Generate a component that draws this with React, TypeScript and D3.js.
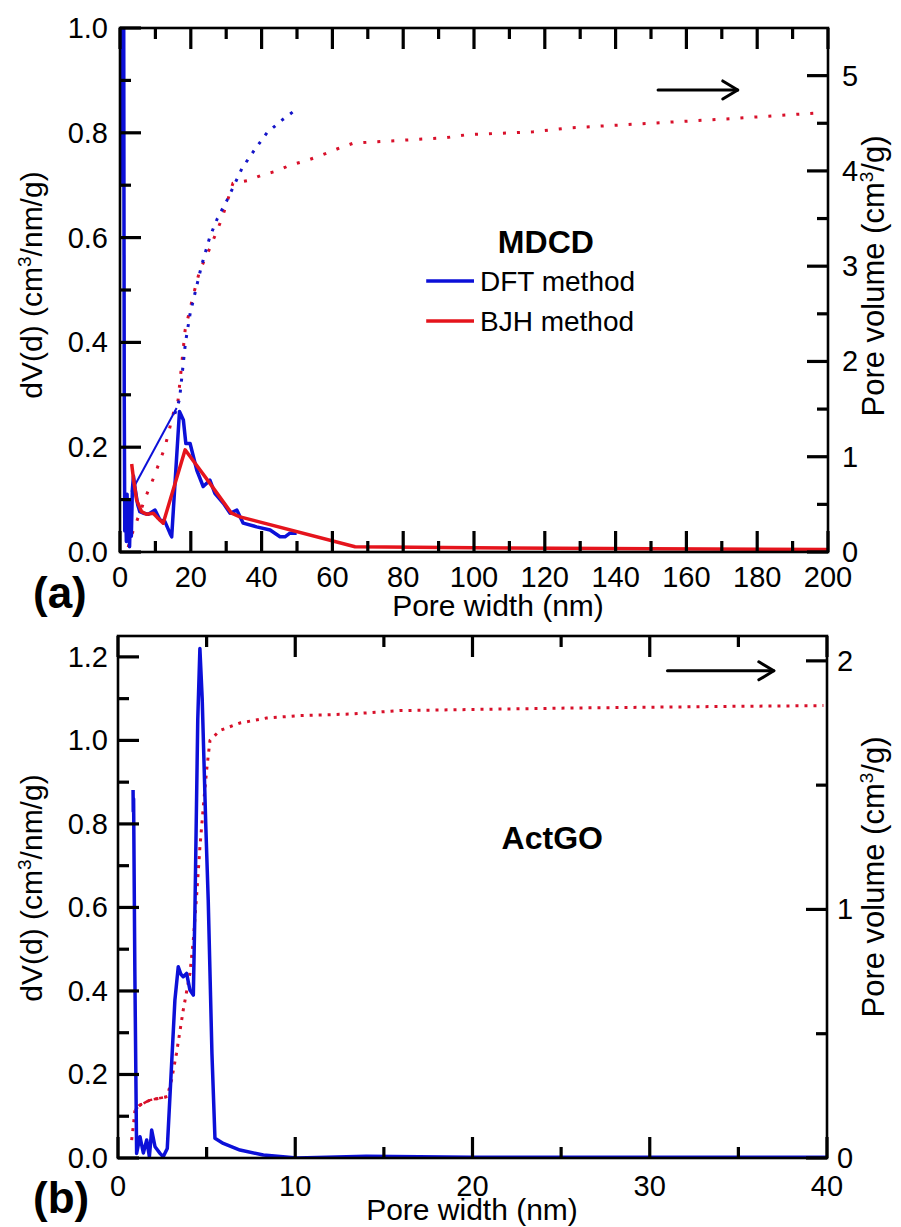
import React from "react";
import * as d3 from "d3";

type P = [number, number];

const FONT = "'Liberation Sans', Arial, Helvetica, sans-serif";
const BLUE = "#0c10d8";
const RED = "#e5141c";
const RED_DOT = "#d8102a";
const BLUE_DOT = "#1414c8";

// ---------- Panel (a): MDCD ----------
const aXMajor = [0, 20, 40, 60, 80, 100, 120, 140, 160, 180, 200];
const aXMinor = [10, 30, 50, 70, 90, 110, 130, 150, 170, 190];
const aYMajor = [0, 0.2, 0.4, 0.6, 0.8, 1.0];
const aYMinor = [0.1, 0.3, 0.5, 0.7, 0.9];
const aY2Major = [0, 1, 2, 3, 4, 5];
const aY2Minor = [0.5, 1.5, 2.5, 3.5, 4.5];

const aDftSolid: P[] = [
  [0.5, 1.3], [0.8, 0.7], [1.0, 1.25], [1.2, 0.3], [1.35, 0.04], [1.6, 0.09], [1.8, 0.02],
  [2.0, 0.11], [2.2, 0.03], [2.5, 0.1], [2.7, 0.01], [3.0, 0.09], [3.2, 0.03], [3.5, 0.12],
  [3.8, 0.145], [4.3, 0.12], [5.0, 0.09], [5.6, 0.077], [6.6, 0.074], [8.0, 0.072], [9.9, 0.08],
  [11.3, 0.061], [12.7, 0.058], [14.1, 0.036], [14.6, 0.029], [16.8, 0.268], [17.9, 0.252],
  [18.6, 0.207], [19.8, 0.207], [21.7, 0.156], [23.5, 0.125], [25.4, 0.137], [26.8, 0.112],
  [29.2, 0.093], [31.1, 0.074], [33.0, 0.08], [34.8, 0.055], [38.6, 0.048], [42.4, 0.042],
  [45.2, 0.029], [46.6, 0.029], [48.0, 0.036], [49.9, 0.036],
];
const aDftThin: P[] = [[3.2, 0.115], [16.0, 0.275]];
const aBjhSolid: P[] = [
  [3.3, 0.168], [3.8, 0.14], [4.7, 0.099], [6.1, 0.077], [7.5, 0.072], [9.4, 0.074],
  [10.5, 0.066], [12.2, 0.055], [18.4, 0.195], [25.4, 0.131], [31.5, 0.074], [33.9, 0.067],
  [66.4, 0.01], [100, 0.008], [150, 0.006], [200, 0.005],
];
const aBjhCum: P[] = [
  [2.3, 0.05], [3.5, 0.2], [5.6, 0.41], [7.5, 0.6], [9.4, 0.77], [11, 0.93], [12.7, 1.1],
  [15.1, 1.46], [16.4, 1.59], [18.4, 2.33], [20.6, 2.68], [22.5, 2.95], [25.4, 3.19],
  [28.8, 3.5], [31.9, 3.87], [36.2, 3.9], [40.4, 3.96], [44.4, 4.0], [48, 4.06], [52.8, 4.11],
  [57.3, 4.17], [61.3, 4.23], [65.8, 4.29], [69.8, 4.3], [79.1, 4.32], [92.4, 4.35],
  [98, 4.38], [116.7, 4.41], [126.3, 4.45], [135.6, 4.47], [154.5, 4.51], [173.2, 4.55],
  [197.7, 4.61],
];
const aDftCum: P[] = [
  [15.5, 1.45], [16.8, 1.6], [18.5, 2.2], [19.8, 2.5], [21.2, 2.72], [23, 3.0], [25.4, 3.31],
  [27.5, 3.5], [30.2, 3.69], [34.5, 4.03], [38, 4.22], [41.5, 4.4], [46, 4.54], [50.3, 4.66],
];

// ---------- Panel (b): ActGO ----------
const bXMajor = [0, 10, 20, 30, 40];
const bXMinor = [5, 15, 25, 35];
const bYMajor = [0, 0.2, 0.4, 0.6, 0.8, 1.0, 1.2];
const bYMinor = [0.1, 0.3, 0.5, 0.7, 0.9, 1.1];
const bY2Major = [0, 1, 2];
const bY2Minor = [0.5, 1.5];

const bDftSolid: P[] = [
  [0.85, 0.881], [0.86, 0.83], [0.88, 0.86], [0.95, 0.45], [1.05, 0.011], [1.24, 0.051],
  [1.43, 0.012], [1.62, 0.043], [1.77, 0.003], [1.9, 0.067], [2.09, 0.027], [2.37, 0.011],
  [2.55, 0.003], [2.78, 0.023], [3.21, 0.378], [3.4, 0.458], [3.55, 0.44], [3.68, 0.434],
  [3.87, 0.442], [4.06, 0.402], [4.25, 0.39], [4.34, 0.594], [4.5, 1.05], [4.62, 1.22],
  [4.75, 1.1], [4.95, 0.8], [5.09, 0.618], [5.3, 0.25], [5.47, 0.047], [5.94, 0.035],
  [6.88, 0.019], [8.2, 0.007], [10.1, 0.0], [14, 0.004], [20, 0.002], [30, 0.002], [40, 0.002],
];
const bBjhCum: P[] = [
  [0.77, 0.072], [0.86, 0.126], [0.96, 0.193], [1.24, 0.213], [1.8, 0.233], [2.3, 0.24],
  [2.78, 0.247], [3.02, 0.314], [3.3, 0.421], [3.68, 0.595], [4.06, 0.743], [4.25, 0.877],
  [4.44, 1.06], [4.62, 1.25], [4.81, 1.41], [5.0, 1.56], [5.19, 1.68], [5.75, 1.72],
  [6.88, 1.75], [8.38, 1.77], [10.3, 1.78], [13.1, 1.786], [15.9, 1.8], [25.3, 1.81],
  [34.7, 1.817], [39.8, 1.82],
];

type Box = { left: number; right: number; top: number; bottom: number };

const boxA: Box = { left: 120, right: 828, top: 28, bottom: 552 };
const boxB: Box = { left: 118, right: 827, top: 636, bottom: 1158 };

type S = d3.ScaleLinear<number, number>;

const TW = 3.2;
const LMAJ = 21;
const LMIN = 11;

function Frame(props: {
  box: Box;
  x: S;
  y: S;
  y2: S;
  xMaj: number[]; xMin: number[];
  yMaj: number[]; yMin: number[];
  y2Maj: number[]; y2Min: number[];
  xLabelBaseline: number;
  yLabelRight: number;
  y2LabelLeft: number;
}) {
  const { box } = props;
  const sx = props.x;
  const sy = props.y;
  const sy2 = props.y2;
  const vx = (vals: number[], len: number, pre: string) =>
    vals.map((v) => (
      <g key={pre + v}>
        <line x1={sx(v)} x2={sx(v)} y1={box.bottom} y2={box.bottom - len} stroke="#000" strokeWidth={TW} />
        <line x1={sx(v)} x2={sx(v)} y1={box.top} y2={box.top + len} stroke="#000" strokeWidth={TW} />
      </g>
    ));
  const vl = (vals: number[], len: number, pre: string) =>
    vals.map((v) => (
      <line key={pre + v} x1={box.left} x2={box.left + len} y1={sy(v)} y2={sy(v)} stroke="#000" strokeWidth={TW} />
    ));
  const vr = (vals: number[], len: number, pre: string) =>
    vals.map((v) => (
      <line key={pre + v} x1={box.right} x2={box.right - len} y1={sy2(v)} y2={sy2(v)} stroke="#000" strokeWidth={TW} />
    ));
  return (
    <g>
      {vx(props.xMaj, LMAJ, "xM")}
      {vx(props.xMin, LMIN, "xm")}
      {vl(props.yMaj, LMAJ, "lM")}
      {vl(props.yMin, LMIN, "lm")}
      {vr(props.y2Maj, LMAJ, "rM")}
      {vr(props.y2Min, LMIN, "rm")}
      <rect
        x={box.left}
        y={box.top}
        width={box.right - box.left}
        height={box.bottom - box.top}
        stroke="#000"
        strokeWidth={2.6}
        fill="none"
      />
      {props.xMaj.map((v) => (
        <text key={"xl" + v} x={sx(v)} y={props.xLabelBaseline} textAnchor="middle" fontSize={29} fontFamily={FONT}>
          {String(v)}
        </text>
      ))}
      {props.yMaj.map((v) => (
        <text key={"yl" + v} x={props.yLabelRight} y={sy(v) + 10} textAnchor="end" fontSize={29} fontFamily={FONT}>
          {v.toFixed(1)}
        </text>
      ))}
      {props.y2Maj.map((v) => (
        <text key={"yr" + v} x={props.y2LabelLeft} y={sy2(v) + 10} textAnchor="start" fontSize={29} fontFamily={FONT}>
          {String(v)}
        </text>
      ))}
    </g>
  );
}

function Arrow({ x1, x2, y }: { x1: number; x2: number; y: number }) {
  return (
    <g stroke="#000" strokeWidth={3} fill="none" strokeLinecap="round" strokeLinejoin="round">
      <line x1={x1} x2={x2} y1={y} y2={y} />
      <polyline points={`${x2 - 15},${y - 9} ${x2},${y} ${x2 - 15},${y + 9}`} />
    </g>
  );
}

function LeftTitle({ cx, cy }: { cx: number; cy: number }) {
  return (
    <text transform={`translate(${cx},${cy}) rotate(-90)`} textAnchor="middle" fontSize={30} fontFamily={FONT}>
      dV(d) (cm<tspan dy={-11} fontSize={19}>3</tspan><tspan dy={11}>/nm/g)</tspan>
    </text>
  );
}

function RightTitle({ cx, cy }: { cx: number; cy: number }) {
  return (
    <text transform={`translate(${cx},${cy}) rotate(-90)`} textAnchor="middle" fontSize={31} fontFamily={FONT}>
      Pore volume (cm<tspan dy={-11} fontSize={19}>3</tspan><tspan dy={11}>/g)</tspan>
    </text>
  );
}

export default function App() {
  // scales (a)
  const xa = d3.scaleLinear().domain([0, 200]).range([boxA.left, boxA.right]);
  const ya = d3.scaleLinear().domain([0, 1.0]).range([boxA.bottom, boxA.top]);
  const ya2 = d3.scaleLinear().domain([0, 5.5]).range([boxA.bottom, boxA.top]);
  // scales (b)
  const xb = d3.scaleLinear().domain([0, 40]).range([boxB.left, boxB.right]);
  const yb = d3.scaleLinear().domain([0, 1.25]).range([boxB.bottom, boxB.top]);
  const yb2 = d3.scaleLinear().domain([0, 2.1]).range([boxB.bottom, boxB.top]);

  const mk = (xs: S, ys: S) => d3.line<P>().x((d) => xs(d[0])).y((d) => ys(d[1]));

  const la = mk(xa, ya);
  const la2 = mk(xa, ya2);
  const lb = mk(xb, yb);
  const lb2 = mk(xb, yb2);

  const bDense = bBjhCum.filter((d) => d[0] >= 0.96 && d[0] <= 2.78);

  return (
    <svg
      width={901}
      height={1227}
      viewBox="0 0 901 1227"
      style={{ position: "absolute", left: 0, top: 0, background: "#fff", display: "block" }}
    >
      <rect x={0} y={0} width={901} height={1227} fill="#fff" />
      <defs>
        <clipPath id="clipA">
          <rect x={boxA.left - 3} y={boxA.top} width={boxA.right - boxA.left + 3} height={boxA.bottom - boxA.top} />
        </clipPath>
        <clipPath id="clipB">
          <rect x={boxB.left} y={boxB.top} width={boxB.right - boxB.left} height={boxB.bottom - boxB.top} />
        </clipPath>
      </defs>

      {/* ---------- Panel (a) ---------- */}
      <g clipPath="url(#clipA)">
        <path d={la2(aBjhCum) || ""} fill="none" stroke={RED_DOT} strokeWidth={3} strokeDasharray="3 11" />
        <path d={la2(aDftCum) || ""} fill="none" stroke={BLUE_DOT} strokeWidth={3} strokeDasharray="3 8" />
        <path d={la(aDftThin) || ""} fill="none" stroke={BLUE} strokeWidth={2} />
        <path d={la(aDftSolid) || ""} fill="none" stroke={BLUE} strokeWidth={3.5} strokeLinejoin="round" />
        <path d={la(aBjhSolid) || ""} fill="none" stroke={RED} strokeWidth={3.5} strokeLinejoin="round" />
      </g>
      <Frame
        box={boxA} x={xa} y={ya} y2={ya2}
        xMaj={aXMajor} xMin={aXMinor} yMaj={aYMajor} yMin={aYMinor} y2Maj={aY2Major} y2Min={aY2Minor}
        xLabelBaseline={587} yLabelRight={108} y2LabelLeft={842}
      />
      <Arrow x1={xa(152)} x2={xa(174.5)} y={ya2(4.85)} />
      <text x={xa(120.3)} y={ya(0.57)} textAnchor="middle" fontSize={32} fontWeight="bold" fontFamily={FONT}>
        MDCD
      </text>
      {/* legend */}
      <line x1={xa(86.5)} x2={xa(100)} y1={ya(0.517)} y2={ya(0.517)} stroke={BLUE} strokeWidth={3.5} />
      <text x={xa(101.7)} y={ya(0.517) + 10} fontSize={28} fontFamily={FONT}>DFT method</text>
      <line x1={xa(86.5)} x2={xa(100)} y1={ya(0.441)} y2={ya(0.441)} stroke={RED} strokeWidth={3.5} />
      <text x={xa(101.7)} y={ya(0.441) + 10} fontSize={28} fontFamily={FONT}>BJH method</text>

      <LeftTitle cx={42} cy={285} />
      <RightTitle cx={884} cy={276} />
      <text x={498} y={616} textAnchor="middle" fontSize={30} fontFamily={FONT}>Pore width (nm)</text>
      <text x={33} y={608} fontSize={44} fontWeight="bold" fontFamily={FONT}>(a)</text>

      {/* ---------- Panel (b) ---------- */}
      <g clipPath="url(#clipB)">
        <path d={lb2(bDense) || ""} fill="none" stroke={RED_DOT} strokeWidth={2.5} strokeDasharray="4 1.5" />
        <path d={lb2(bBjhCum) || ""} fill="none" stroke={RED_DOT} strokeWidth={3} strokeDasharray="3 6" />
        <path d={lb(bDftSolid) || ""} fill="none" stroke={BLUE} strokeWidth={3.5} strokeLinejoin="round" />
      </g>
      <Frame
        box={boxB} x={xb} y={yb} y2={yb2}
        xMaj={bXMajor} xMin={bXMinor} yMaj={bYMajor} yMin={bYMinor} y2Maj={bY2Major} y2Min={bY2Minor}
        xLabelBaseline={1196} yLabelRight={108} y2LabelLeft={837}
      />
      <Arrow x1={xb(31)} x2={xb(37)} y={yb2(1.96)} />
      <text x={xb(24.5)} y={yb(0.74)} textAnchor="middle" fontSize={32} fontWeight="bold" fontFamily={FONT}>
        ActGO
      </text>
      <LeftTitle cx={42} cy={888} />
      <RightTitle cx={884} cy={877} />
      <text x={472} y={1220} textAnchor="middle" fontSize={30} fontFamily={FONT}>Pore width (nm)</text>
      <text x={33} y={1213} fontSize={44} fontWeight="bold" fontFamily={FONT}>(b)</text>
    </svg>
  );
}
